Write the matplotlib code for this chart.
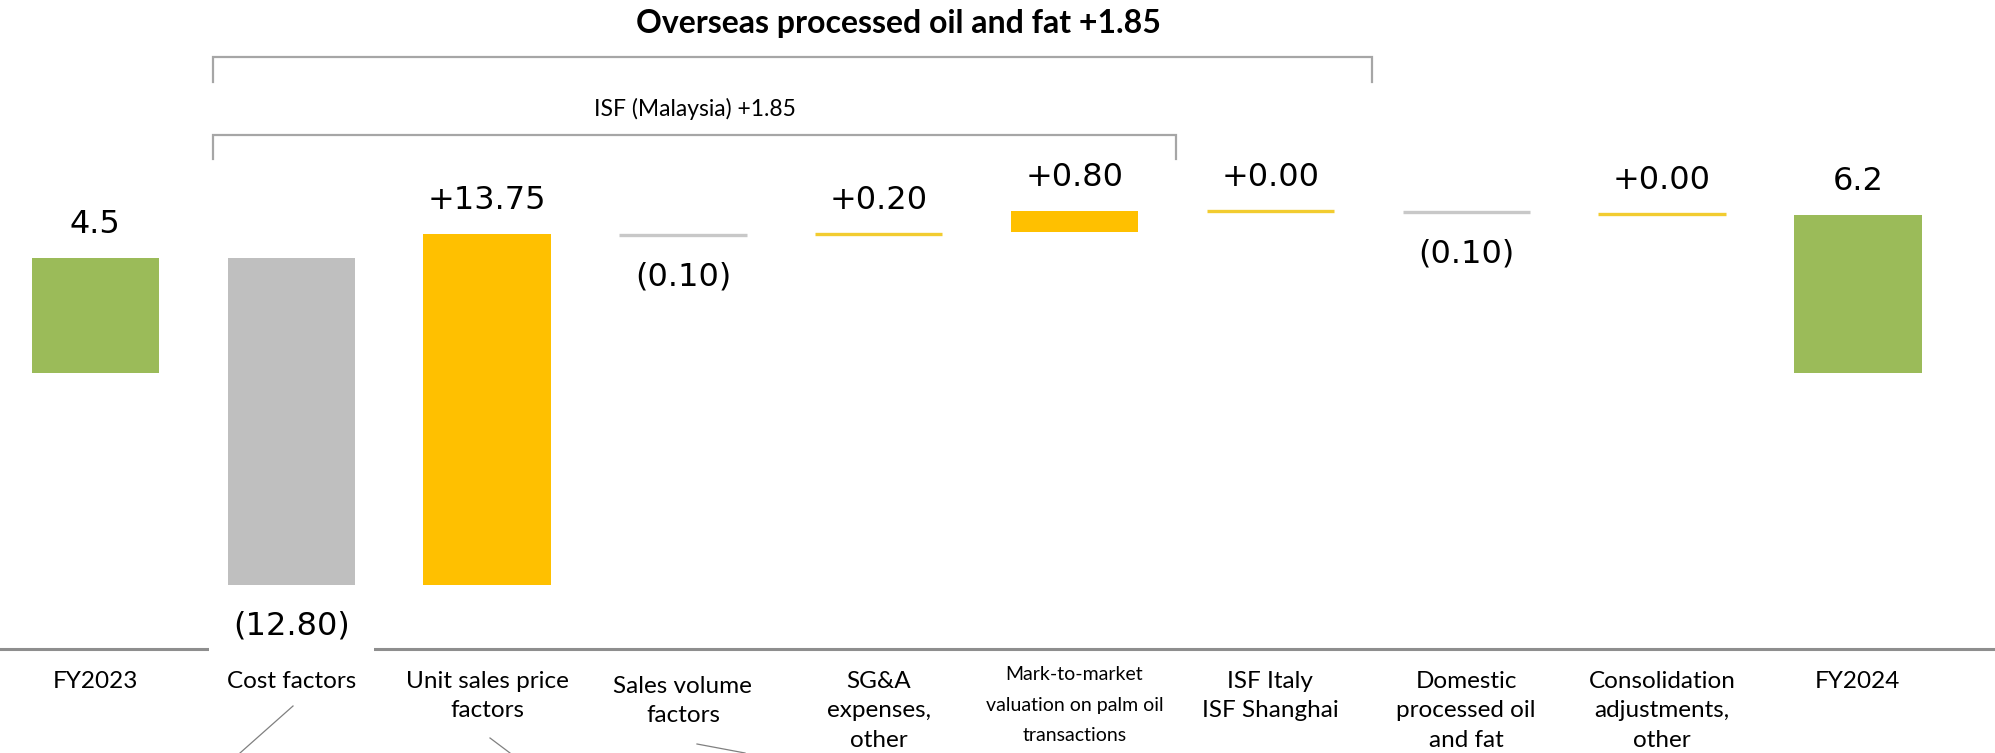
import matplotlib.pyplot as plt
from matplotlib.lines import Line2D

# data
categories = ['FY2023', 'Cost factors', 'Unit sales price\nfactors', 'Sales volume\nfactors',
              'SG&A\nexpenses,\nother', 'Mark-to-market\nvaluation on palm oil\ntransactions',
              'ISF Italy\nISF Shanghai', 'Domestic\nprocessed oil\nand fat',
              'Consolidation\nadjustments,\nother', 'FY2024']
values = [4.5, -12.80, 13.75, -0.10, 0.20, 0.80, 0.00, -0.10, 0.00, 6.2]
is_total = [True, False, False, False, False, False, False, False, False, True]
value_labels = ['4.5', '(12.80)', '+13.75', '(0.10)', '+0.20', '+0.80', '+0.00', '(0.10)', '+0.00', '6.2']
title_text = 'Overseas processed oil and fat +1.85'
sub_text = 'ISF (Malaysia) +1.85'
outer_group = (1, 6)
inner_group = (1, 5)

GREEN = '#9BBB59'
GRAY = '#BFBFBF'
YELLOW = '#FFC000'
LINE_YELLOW = '#F2CC30'
LINE_GRAY = '#C8C8C8'
BRACKET = '#A6A6A6'
LABEL_FONT = ['Lato', 'DejaVu Sans']

fig = plt.figure(figsize=(19.95, 7.53), dpi=100)
ax = fig.add_axes([0, 0, 1, 1])
ax.set_xlim(-0.487, 9.70)
ax.set_ylim(-14.90, 14.63)
ax.axis('off')

width = 0.65
running = 0.0
for i, v in enumerate(values):
    if is_total[i]:
        bottom = 0.0
        running = v
    else:
        bottom = running
        running = running + v
    lo, hi = min(bottom, bottom + v), max(bottom, bottom + v)
    if is_total[i]:
        color = GREEN
    elif v < 0:
        color = GRAY
    else:
        color = YELLOW
    if abs(v) < 0.5:
        # tiny steps are shown as a thin line
        ymark = (lo + hi) / 2
        lc = LINE_GRAY if v < 0 else LINE_YELLOW
        ax.hlines(ymark, i - width / 2, i + width / 2, color=lc, lw=2.4, zorder=3)
        lo = hi = ymark
    else:
        ax.bar(i, hi - lo, bottom=lo, width=width, color=color, zorder=3)
    lab = value_labels[i]
    if v < 0:
        box = dict(boxstyle='square,pad=0.75', fc='white', ec='none') if abs(v) > 5 else None
        ax.annotate(lab, (i, lo), xytext=(0, -30), textcoords='offset points',
                    ha='center', va='center', fontsize=23, family='DejaVu Sans',
                    bbox=box, zorder=5)
    else:
        ax.annotate(lab, (i, hi), xytext=(0, 24), textcoords='offset points',
                    ha='center', va='center', fontsize=23, family='DejaVu Sans', zorder=5)

# category axis line
ax.axhline(-10.82, color='#8E8E8E', lw=2.2, zorder=4)

# category labels
for i, c in enumerate(categories):
    if c.startswith('Mark'):
        ax.text(i, -11.5, c, ha='center', va='top', fontsize=14, family=LABEL_FONT,
                linespacing=1.96)
    else:
        dy = -0.2 if c.startswith('Sales') else 0.0
        ax.text(i, -11.68 + dy, c, ha='center', va='top', fontsize=17.5, family=LABEL_FONT,
                linespacing=1.49)

# group brackets
def bracket(group, y, tick, text, fs, weight, tx, ty):
    x0 = group[0] - 0.4
    x1 = group[1] + 0.52
    ax.plot([x0, x0, x1, x1], [y - tick, y, y, y - tick], color=BRACKET, lw=1.6,
            solid_joinstyle='miter')
    ax.text(tx if tx is not None else (x0 + x1) / 2, ty, text, ha='center', va='center',
            fontsize=fs, fontweight=weight, family=LABEL_FONT)

bracket(outer_group, 12.39, 0.98, title_text, 23, 'bold', 4.10, 13.7)
bracket(inner_group, 9.34, 0.95, sub_text, 16.5, 'normal', None, 10.35)

# leader lines running off the bottom edge
leaders = [((293, 706), (240, 753)), ((490, 738), (510, 753)), ((697, 744), (745, 753))]
for (xa, ya), (xb, yb) in leaders:
    fig.add_artist(Line2D([xa / 1995, xb / 1995], [1 - ya / 753, 1 - yb / 753],
                          color='#808080', lw=0.9))

plt.savefig('out.png', dpi=100)
